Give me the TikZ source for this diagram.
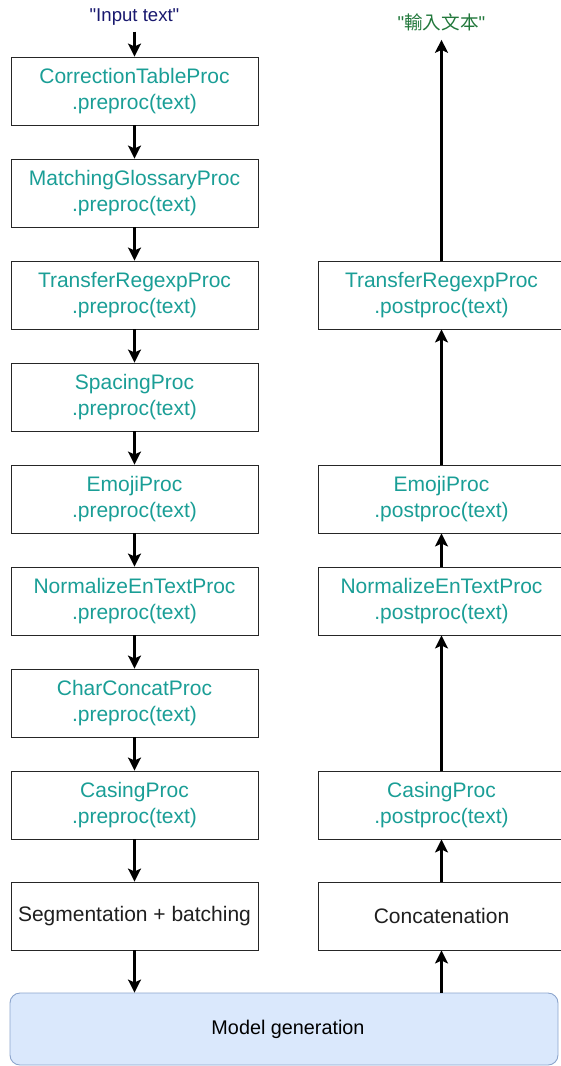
\documentclass[tikz,border=0pt]{standalone}
\usepackage{fontspec}
\setmainfont{Liberation Sans}[Ligatures=TeXOff]
\newfontfamily\cjkfont{Noto Sans CJK TC}
\usetikzlibrary{arrows.meta}
\definecolor{proctext}{RGB}{26,158,150}
\definecolor{intext}{RGB}{24,24,110}
\definecolor{outtext}{RGB}{34,120,60}
\definecolor{modelfill}{RGB}{218,232,252}
\definecolor{modeldraw}{RGB}{140,165,205}
\tikzset{
  procbox/.style={draw=black!85, line width=0.9pt, minimum width=247pt, minimum height=68pt,
    inner sep=0pt, align=center, text=proctext, font=\fontsize{21}{26.5}\selectfont},
  plainbox/.style={procbox, text=black!88, font=\fontsize{21}{25}\selectfont},
  flow/.style={line width=2.6pt, -{Stealth[length=13pt,width=13pt,inset=3pt]}},
  iolabel/.style={inner sep=0pt, font=\fontsize{18.6}{22}\selectfont}
}
\begin{document}
\begin{tikzpicture}[x=1pt,y=-1pt]
\useasboundingbox (0,0) rectangle (560,1066);
% preprocessing chain
\node[iolabel, text=intext] (in) at (134.5,17) {"Input text"};
\node[procbox] (p1) at (134.5,91)  {CorrectionTableProc\\.preproc(text)};
\node[procbox] (p2) at (134.5,193) {MatchingGlossaryProc\\.preproc(text)};
\node[procbox] (p3) at (134.5,295) {TransferRegexpProc\\.preproc(text)};
\node[procbox] (p4) at (134.5,397) {SpacingProc\\.preproc(text)};
\node[procbox] (p5) at (134.5,499) {EmojiProc\\.preproc(text)};
\node[procbox] (p6) at (134.5,601) {NormalizeEnTextProc\\.preproc(text)};
\node[procbox] (p7) at (134.5,703) {CharConcatProc\\.preproc(text)};
\node[procbox] (p8) at (134.5,805) {CasingProc\\.preproc(text)};
\node[plainbox] (seg) at (134.5,916) {Segmentation + batching};
% postprocessing chain
\node[iolabel, text=outtext] (out) at (441.5,22) {"{\cjkfont 輸入文本}"};
\node[procbox] (q1) at (441.5,295) {TransferRegexpProc\\.postproc(text)};
\node[procbox] (q2) at (441.5,499) {EmojiProc\\.postproc(text)};
\node[procbox] (q3) at (441.5,601) {NormalizeEnTextProc\\.postproc(text)};
\node[procbox] (q4) at (441.5,805) {CasingProc\\.postproc(text)};
\node[plainbox] (cat) at (441.5,916) {Concatenation};
% model
\node[draw=modeldraw, fill=modelfill, line width=0.9pt, rounded corners=10pt,
  minimum width=548pt, minimum height=72pt, inner sep=0pt,
  font=\fontsize{19.8}{24}\selectfont] (model) at (284,1029) {\hspace{8pt}Model generation};
% connectors
\draw[flow] ([yshift=-6pt]in.south) -- (p1.north);
\foreach \a/\b in {p1/p2,p2/p3,p3/p4,p4/p5,p5/p6,p6/p7,p7/p8,p8/seg}
  \draw[flow] (\a.south) -- (\b.north);
\draw[flow] (seg.south) -- (seg.south |- model.north);
\draw[flow] (model.north -| cat.south) -- (cat.south);
\foreach \a/\b in {cat/q4,q4/q3,q3/q2,q2/q1}
  \draw[flow] (\a.north) -- (\b.south);
\draw[flow] (q1.north) -- ([yshift=-9pt]out.south);
\end{tikzpicture}
\end{document}
